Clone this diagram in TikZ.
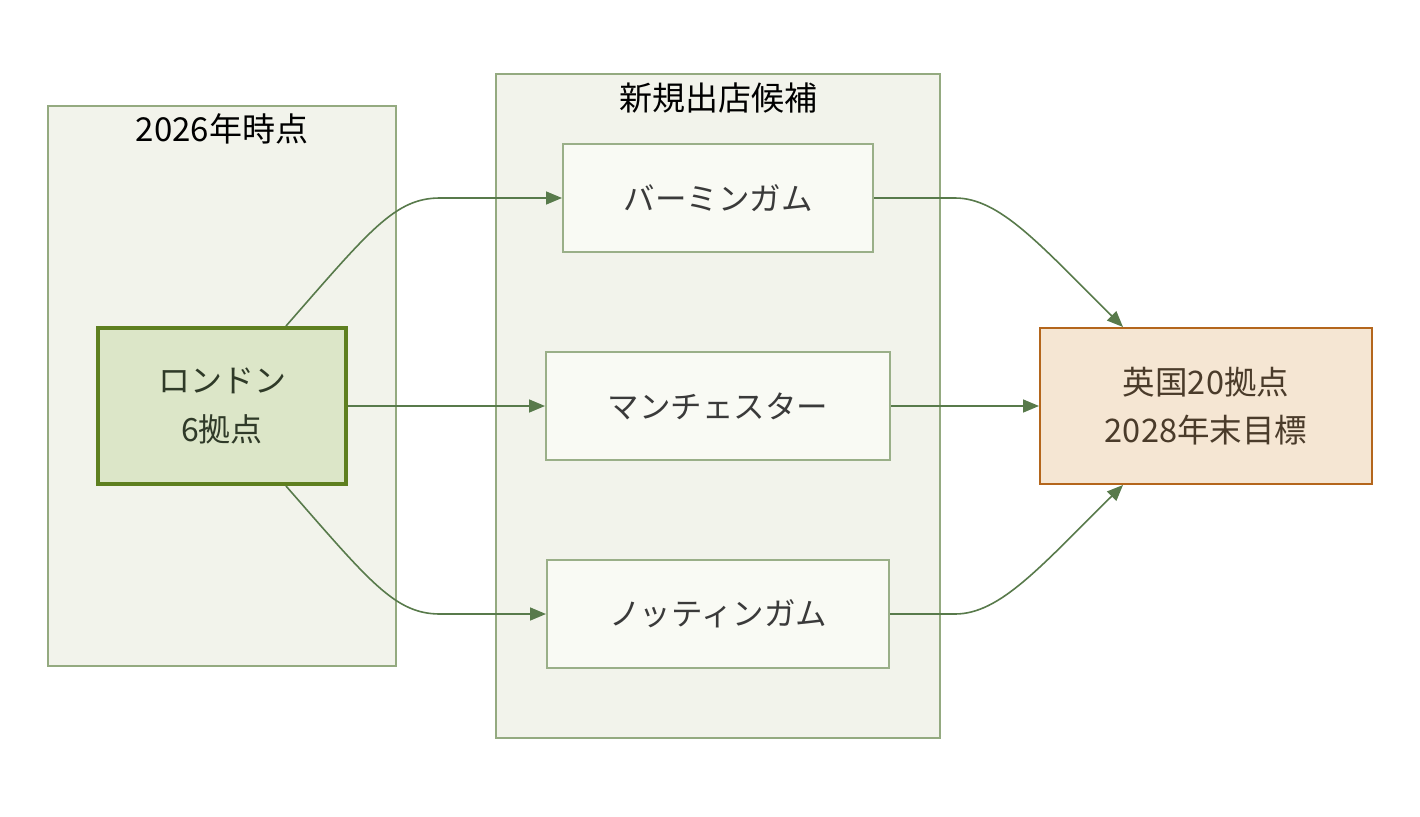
\documentclass[tikz,border=0pt]{standalone}
\usepackage{fontspec}
\setmainfont{Noto Sans CJK JP}
\usetikzlibrary{arrows.meta,calc}
\definecolor{contfill}{HTML}{F2F3EB}
\definecolor{contline}{HTML}{94AA80}
\definecolor{boxfill}{HTML}{F9FAF4}
\definecolor{boxline}{HTML}{9AAF88}
\definecolor{lonfill}{HTML}{DCE6C8}
\definecolor{lonline}{HTML}{5E7F1F}
\definecolor{tgtfill}{HTML}{F5E6D3}
\definecolor{tgtline}{HTML}{B4661C}
\definecolor{arrowcol}{HTML}{587A4B}
\definecolor{boxtext}{HTML}{3A3A3A}
\definecolor{lontext}{HTML}{2F3A28}
\definecolor{tgttext}{HTML}{4A3B2A}
\tikzset{
  container/.style={draw=contline, fill=contfill, line width=1.5pt, inner sep=0pt},
  cityboxx/.style={draw=boxline, fill=boxfill, line width=2pt, inner sep=0pt, minimum height=108pt, text=boxtext, font=\fontsize{31.5}{49}\selectfont},
  londonbox/.style={draw=lonline, fill=lonfill, line width=4pt, inner sep=0pt, minimum width=248pt, minimum height=156pt, text=lontext, align=center, font=\fontsize{32}{49}\selectfont},
  targetbox/.style={draw=tgtline, fill=tgtfill, line width=2pt, inner sep=0pt, minimum width=332pt, minimum height=156pt, text=tgttext, align=center, font=\fontsize{32.5}{48}\selectfont},
  titletext/.style={inner sep=0pt, text=black, font=\fontsize{33}{40}\selectfont},
  flow/.style={draw=arrowcol, line width=1.6pt, -{Triangle[length=16pt,width=13pt]}}
}
\begin{document}
\begin{tikzpicture}[x=1pt,y=-1pt]
\useasboundingbox (0,0) rectangle (1420,816);
% containers
\node[container, minimum width=348pt, minimum height=560pt] (left) at (222,386) {};
\node[container, minimum width=444pt, minimum height=664pt] (mid) at (718,406) {};
\node[titletext] (lefttitle) at (222,129) {2026年時点};
\node[titletext] (midtitle) at (718,98) {新規出店候補};
% nodes
\node[londonbox] (london) at (222,406) {ロンドン\\6拠点};
\node[cityboxx, minimum width=310pt] (birm) at (718,198) {バーミンガム};
\node[cityboxx, minimum width=344pt] (manc) at (718,406) {マンチェスター};
\node[cityboxx, minimum width=342pt] (nott) at (718,614) {ノッティンガム};
\node[targetbox] (target) at (1206,406) {英国20拠点\\2028年末目標};
% anchor coordinates
\coordinate (lonN) at ($(london.north west)+(190,0)$);
\coordinate (lonS) at ($(london.south west)+(190,0)$);
\coordinate (tgtN) at ($(target.north west)+(84,0)$);
\coordinate (tgtS) at ($(target.south west)+(84,0)$);
% edges
\draw[flow] (lonN) .. controls (370,230) and (395,198) .. (440,198) -- (birm.west);
\draw[flow] (london.east) -- (manc.west);
\draw[flow] (lonS) .. controls (370,582) and (395,614) .. (440,614) -- (nott.west);
\draw[flow] (birm.east) -- (955,198) .. controls (1000,198) and (1040,245) .. (tgtN);
\draw[flow] (manc.east) -- (target.west);
\draw[flow] (nott.east) -- (955,614) .. controls (1000,614) and (1040,567) .. (tgtS);
\end{tikzpicture}
\end{document}
